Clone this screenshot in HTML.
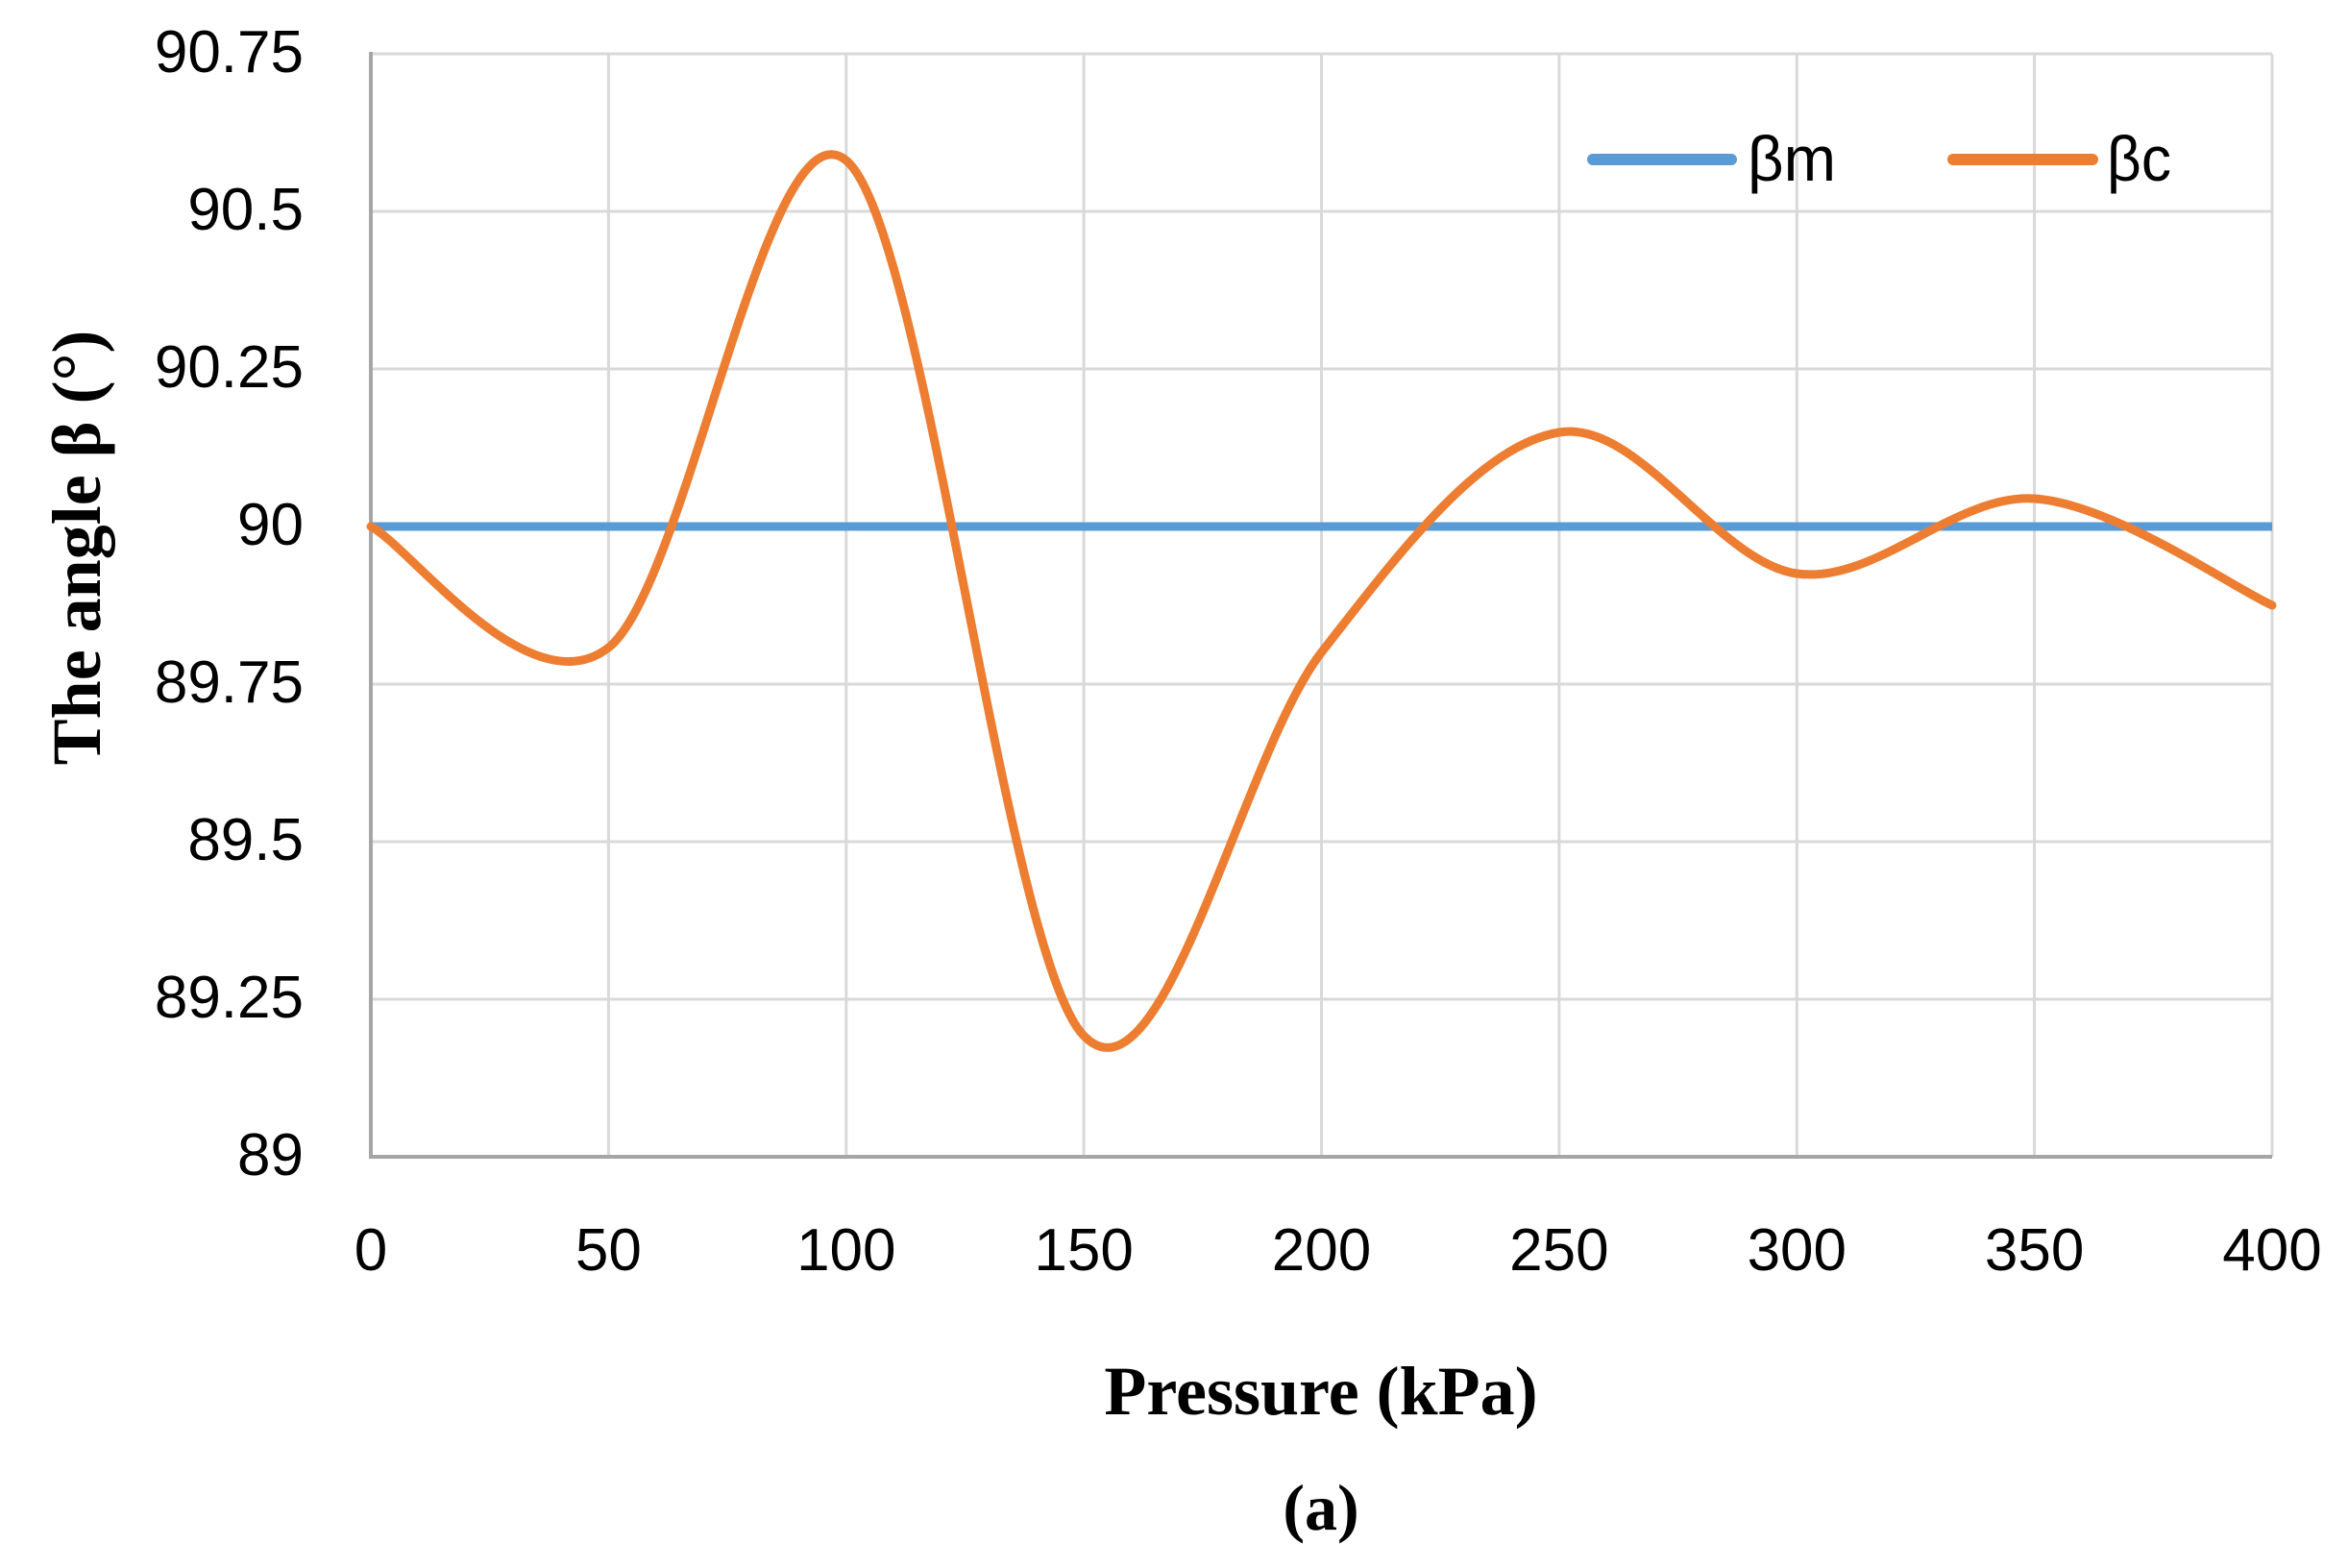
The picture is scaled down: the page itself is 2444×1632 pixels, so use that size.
<!DOCTYPE html>
<html><head><meta charset="utf-8">
<style>
html,body{margin:0;padding:0;background:#fff;}
svg{display:block;}
</style></head>
<body>
<svg width="2444" height="1632" viewBox="0 0 2444 1632" xmlns="http://www.w3.org/2000/svg">
<g stroke="#d9d9d9" stroke-width="3">
<line x1="386" y1="56" x2="2365" y2="56"/>
<line x1="386" y1="220" x2="2365" y2="220"/>
<line x1="386" y1="384" x2="2365" y2="384"/>
<line x1="386" y1="712" x2="2365" y2="712"/>
<line x1="386" y1="876" x2="2365" y2="876"/>
<line x1="386" y1="1040" x2="2365" y2="1040"/>
<line x1="633.4" y1="56" x2="633.4" y2="1204"/>
<line x1="880.8" y1="56" x2="880.8" y2="1204"/>
<line x1="1128.1" y1="56" x2="1128.1" y2="1204"/>
<line x1="1375.5" y1="56" x2="1375.5" y2="1204"/>
<line x1="1622.9" y1="56" x2="1622.9" y2="1204"/>
<line x1="1870.3" y1="56" x2="1870.3" y2="1204"/>
<line x1="2117.6" y1="56" x2="2117.6" y2="1204"/>
<line x1="2365" y1="56" x2="2365" y2="1204"/>
</g>
<g stroke="#a6a6a6" stroke-width="4" fill="none">
<line x1="386" y1="54" x2="386" y2="1206"/>
<line x1="384" y1="1204" x2="2365" y2="1204"/>
</g>
<g font-family="'Liberation Sans',sans-serif" font-size="62" fill="#000" text-anchor="end">
<text x="316" y="75">90.75</text>
<text x="316" y="239">90.5</text>
<text x="316" y="403">90.25</text>
<text x="316" y="567">90</text>
<text x="316" y="731">89.75</text>
<text x="316" y="895">89.5</text>
<text x="316" y="1059">89.25</text>
<text x="316" y="1223">89</text>
</g>
<g font-family="'Liberation Sans',sans-serif" font-size="62" fill="#000" text-anchor="middle">
<text x="386" y="1322">0</text>
<text x="633.4" y="1322">50</text>
<text x="880.8" y="1322">100</text>
<text x="1128.1" y="1322">150</text>
<text x="1375.5" y="1322">200</text>
<text x="1622.9" y="1322">250</text>
<text x="1870.3" y="1322">300</text>
<text x="2117.6" y="1322">350</text>
<text x="2365" y="1322">400</text>
</g>
<line x1="386" y1="548" x2="2365" y2="548" stroke="#5b9bd5" stroke-width="9"/>
<path d="M386,548 C427.2,569 550.9,738.5 633.4,674 C715.9,609.5 798.3,99 880.8,167 C963.3,235 1045.6,993 1128.1,1078 C1210.6,1163 1293,785 1375.5,679 C1458,573 1540.4,463.7 1622.9,450 C1705.4,436.3 1787.8,585.5 1870.3,597 C1952.8,608.5 2035.1,513.5 2117.6,519 C2200.1,524.5 2323.8,611.5 2365,630" stroke="#ed7d31" stroke-width="9" fill="none" stroke-linecap="round" stroke-linejoin="round"/>
<line x1="1658" y1="166" x2="1802" y2="166" stroke="#5b9bd5" stroke-width="12" stroke-linecap="round"/>
<line x1="2033" y1="166" x2="2178" y2="166" stroke="#ed7d31" stroke-width="12" stroke-linecap="round"/>
<g font-family="'Liberation Sans',sans-serif" font-size="66" fill="#000">
<text x="1819" y="188" textLength="92" lengthAdjust="spacingAndGlyphs">βm</text>
<text x="2193" y="188" textLength="67" lengthAdjust="spacingAndGlyphs">βc</text>
</g>
<g font-family="'Liberation Serif',serif" font-weight="bold" fill="#000" text-anchor="middle">
<text x="1375" y="1472" font-size="72">Pressure (kPa)</text>
<text x="1375" y="1592" font-size="68">(a)</text>
<text transform="translate(104,570) rotate(-90)" font-size="72">The angle β (°)</text>
</g>
</svg>
</body></html>
